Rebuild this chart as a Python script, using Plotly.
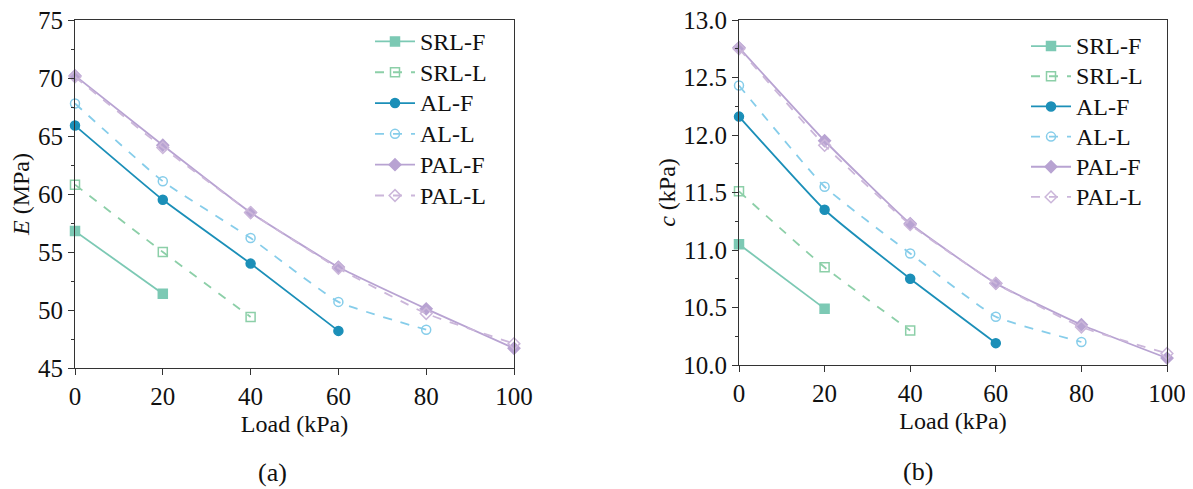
import plotly.graph_objects as go

load = [0, 20, 40, 60, 80, 100]
names = ["SRL-F", "SRL-L", "AL-F", "AL-L", "PAL-F", "PAL-L"]

# Panel (a): E (MPa)
E_srl_f = [56.8, 51.4]
E_srl_l = [60.8, 55.0, 49.4]
E_al_f = [65.9, 59.5, 54.0, 48.2]
E_al_l = [67.8, 61.1, 56.2, 50.7, 48.3]
E_pal_f = [70.2, 64.2, 58.4, 53.7, 50.1, 46.7]
E_pal_l = [70.1, 64.0, 58.4, 53.6, 49.7, 47.1]

# Panel (b): c (kPa)
c_srl_f = [11.05, 10.49]
c_srl_l = [11.51, 10.85, 10.30]
c_al_f = [12.16, 11.35, 10.75, 10.19]
c_al_l = [12.43, 11.55, 10.97, 10.42, 10.20]
c_pal_f = [12.76, 11.95, 11.23, 10.71, 10.35, 10.06]
c_pal_l = [12.75, 11.91, 11.22, 10.71, 10.33, 10.10]

colors = ["#7cc9b4", "#8ccfa8", "#1b8fb8", "#86cdea", "#b8a3d2", "#cbb6da"]
dashes = ["solid", "dash", "solid", "dash", "solid", "dash"]
symbols = ["square", "square-open", "circle", "circle-open", "diamond", "diamond-open"]

E_series = [E_srl_f, E_srl_l, E_al_f, E_al_l, E_pal_f, E_pal_l]
c_series = [c_srl_f, c_srl_l, c_al_f, c_al_l, c_pal_f, c_pal_l]

FONT = "Liberation Serif, Times New Roman, serif"
W, H = 1193, 489
OFF = 8  # page body margin


def px(v):
    return (v - OFF) / W


def py(v):
    return 1 - (v - OFF) / H


def label(n):
    return '<span style="font-size:24px">' + n + '</span>'


fig = go.Figure()
for i, name in enumerate(names):
    fig.add_trace(go.Scatter(
        x=load[:len(E_series[i])], y=E_series[i], name=label(name),
        mode="lines+markers", line=dict(color=colors[i], width=1.8, dash=dashes[i], shape="spline", smoothing=0.4),
        marker=dict(symbol=symbols[i], size=9, color=colors[i], line=dict(color=colors[i], width=1.5)),
        xaxis="x", yaxis="y", legend="legend", cliponaxis=False))
for i, name in enumerate(names):
    fig.add_trace(go.Scatter(
        x=load[:len(c_series[i])], y=c_series[i], name=label(name),
        mode="lines+markers", line=dict(color=colors[i], width=1.8, dash=dashes[i], shape="spline", smoothing=0.4),
        marker=dict(symbol=symbols[i], size=9, color=colors[i], line=dict(color=colors[i], width=1.5)),
        xaxis="x2", yaxis="y2", legend="legend2", cliponaxis=False))


def ax(size):
    return dict(showline=True, linecolor="#333333", linewidth=1.2, mirror=True, automargin=False,
                ticks="outside", ticklen=6, tickcolor="#333333", showgrid=False, zeroline=False,
                ticklabeloverflow="allow",
                tickfont=dict(family=FONT, size=size, color="#111111"))


fig.update_layout(
    width=W, height=H, margin=dict(l=0, r=0, t=0, b=0),
    plot_bgcolor="white", paper_bgcolor="white",
    font=dict(family=FONT, size=24, color="#111111"),
    xaxis=dict(domain=[px(75), px(514)], range=[0, 100], tickvals=[0, 20, 40, 60, 80, 100],
               title=dict(text="Load (kPa)", font=dict(family=FONT, size=24), standoff=6),
               anchor="y", **ax(25)),
    yaxis=dict(domain=[py(368), py(20)], range=[45, 75], tickvals=[45, 50, 55, 60, 65, 70, 75],
               minor=dict(ticks="outside", ticklen=3, dtick=2.5, tickcolor="#333333"),
               title=dict(text="<i>E</i> (MPa)", font=dict(family=FONT, size=24), standoff=3),
               anchor="x", **ax(25)),
    xaxis2=dict(domain=[px(739), px(1167)], range=[0, 100], tickvals=[0, 20, 40, 60, 80, 100],
                title=dict(text="Load (kPa)", font=dict(family=FONT, size=24), standoff=6),
                anchor="y2", **ax(25)),
    yaxis2=dict(domain=[py(365), py(20)], range=[10, 13], tickvals=[10, 10.5, 11, 11.5, 12, 12.5, 13],
                tickformat=".1f",
                minor=dict(ticks="outside", ticklen=3, dtick=0.25, tickcolor="#333333"),
                title=dict(text="<i>c</i> (kPa)", font=dict(family=FONT, size=24), standoff=0),
                anchor="x2", **ax(25)),
    legend=dict(x=362/W, y=1-13/H, xanchor="left", yanchor="top", bgcolor="rgba(0,0,0,0)",
                font=dict(family=FONT, size=21.4), tracegroupgap=0, itemwidth=40),
    legend2=dict(x=1018/W, y=1-18/H, xanchor="left", yanchor="top", bgcolor="rgba(0,0,0,0)",
                 font=dict(family=FONT, size=20.9), tracegroupgap=0, itemwidth=40),
    annotations=[
        dict(text="(a)", x=px(272), y=py(472), xref="paper", yref="paper", showarrow=False,
             xanchor="center", yanchor="middle", font=dict(family=FONT, size=26)),
        dict(text="(b)", x=px(918), y=py(471), xref="paper", yref="paper", showarrow=False,
             xanchor="center", yanchor="middle", font=dict(family=FONT, size=26)),
    ],
)

fig.write_html("out.html")
